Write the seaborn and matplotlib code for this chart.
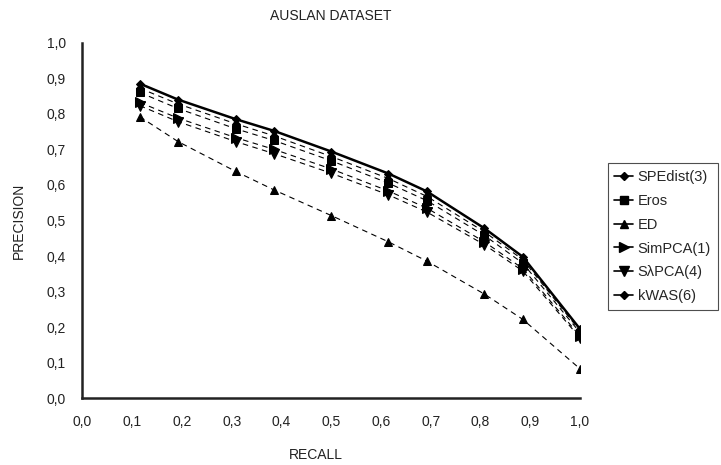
import numpy as np
import pandas as pd
import matplotlib
matplotlib.use("Agg")
import matplotlib.pyplot as plt
import seaborn as sns
from matplotlib.lines import Line2D
from matplotlib.ticker import FuncFormatter

# данные
recall = [0.115, 0.192, 0.308, 0.385, 0.5, 0.615, 0.692, 0.808, 0.885, 1.0]
spedist = [0.885, 0.840, 0.785, 0.752, 0.694, 0.632, 0.582, 0.478, 0.398, 0.195]
eros = [0.860, 0.815, 0.758, 0.725, 0.668, 0.605, 0.556, 0.458, 0.380, 0.185]
ed = [0.792, 0.722, 0.638, 0.586, 0.514, 0.440, 0.386, 0.293, 0.222, 0.083]
simpca = [0.832, 0.788, 0.733, 0.700, 0.645, 0.583, 0.535, 0.440, 0.365, 0.175]
slpca = [0.823, 0.778, 0.722, 0.688, 0.633, 0.572, 0.524, 0.432, 0.358, 0.170]
kwas = [0.872, 0.828, 0.772, 0.738, 0.680, 0.618, 0.568, 0.468, 0.390, 0.190]

names = ["SPEdist(3)", "Eros", "ED", "SimPCA(1)", "S\u03bbPCA(4)", "kWAS(6)"]
values = [spedist, eros, ed, simpca, slpca, kwas]
markers = ["D", "s", "^", ">", "v", "D"]
msizes = [4.5, 6, 5.5, 6.5, 6.5, 4.5]

sns.set_style("white")
plt.rcParams["font.family"] = ["Liberation Sans", "DejaVu Sans"]

fig = plt.figure(figsize=(7.21, 4.65), dpi=100)
ax = fig.add_axes([0.1144, 0.1434, 0.690, 0.7648])

df = pd.DataFrame({"recall": recall})
for name, vals in zip(names, values):
    df[name] = vals

# рисуем в обратном порядке, чтобы сплошная линия была сверху
for name, mk, ms in reversed(list(zip(names, markers, msizes))):
    if name == "SPEdist(3)":
        sns.lineplot(data=df, x="recall", y=name, ax=ax, color="black",
                     marker=mk, markersize=ms, linewidth=1.8,
                     markeredgecolor="black", zorder=5)
    else:
        sns.lineplot(data=df, x="recall", y=name, ax=ax, color="black",
                     marker=mk, markersize=ms, linewidth=0.8,
                     dashes=(5, 4), markeredgecolor="black", zorder=3)

ax.set_xlim(0, 1.0)
ax.set_ylim(0, 1.0)
ax.set_xticks(np.arange(0, 1.01, 0.1))
ax.set_yticks(np.arange(0, 1.01, 0.1))
fmt = FuncFormatter(lambda v, p: f"{v:.1f}".replace(".", ","))
ax.xaxis.set_major_formatter(fmt)
ax.yaxis.set_major_formatter(fmt)

for side in ["top", "right"]:
    ax.spines[side].set_visible(False)
for side in ["left", "bottom"]:
    ax.spines[side].set_color("#222222")
    ax.spines[side].set_linewidth(1.8)
ax.tick_params(axis="both", which="major", direction="out", length=5,
               width=1, color="#666666", labelsize=10, pad=7, labelcolor="#222222")

ax.set_xlabel("RECALL", fontsize=10, color="#222222")
ax.xaxis.set_label_coords(0.47, -0.14)
ax.set_ylabel("PRECISION", fontsize=10, color="#222222")
ax.yaxis.set_label_coords(-0.113, 0.5)
ax.set_title("AUSLAN DATASET", fontsize=10, color="#222222", pad=16)

handles = [Line2D([0], [0], color="black", marker=mk, markersize=ms, linewidth=1.2)
           for mk, ms in zip(markers, msizes)]
leg = fig.legend(handles, names, loc="upper left", bbox_to_anchor=(0.843, 0.649),
                 frameon=True, fancybox=False, fontsize=10.5, handlelength=1.3,
                 handletextpad=0.3, labelspacing=0.68, borderpad=0.45,
                 borderaxespad=0)
leg.get_frame().set_edgecolor("#222222")
leg.get_frame().set_linewidth(0.8)

fig.savefig("out.png", dpi=100)
